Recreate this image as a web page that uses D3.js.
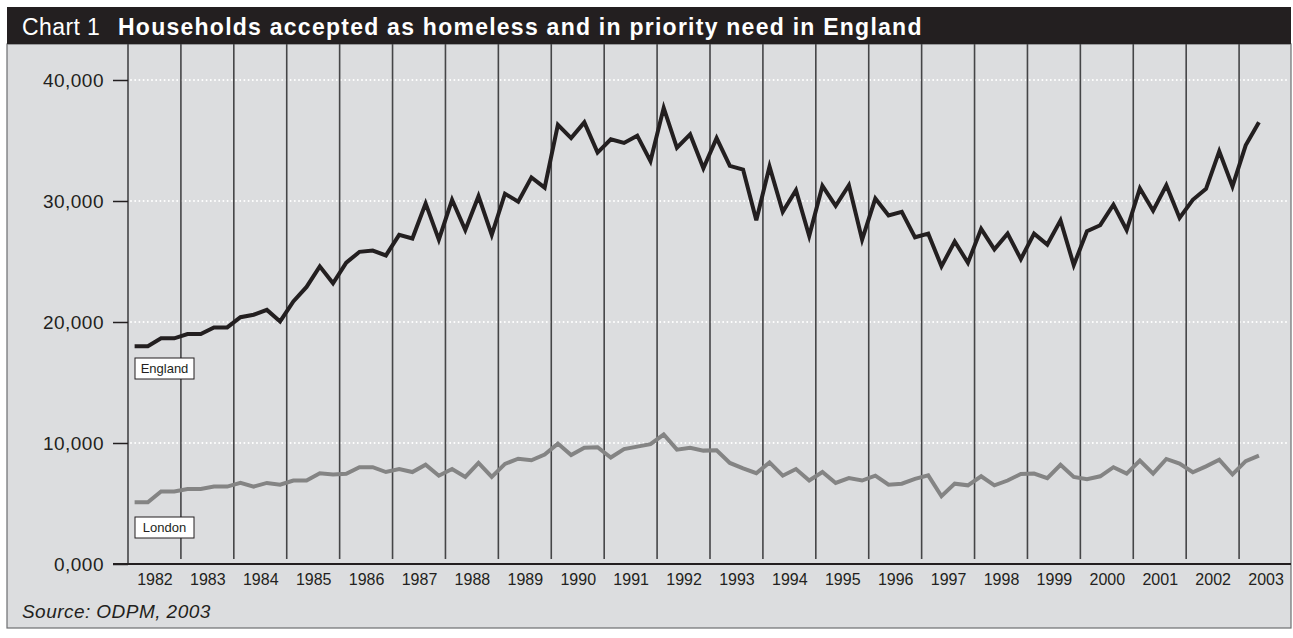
<!DOCTYPE html>
<html>
<head>
<meta charset="utf-8">
<script src="https://cdn.jsdelivr.net/npm/d3@7"></script>
<style>
  html, body { margin: 0; padding: 0; background: #ffffff; }
  svg { display: block; }
  text { font-family: "Liberation Sans", Arial, Helvetica, sans-serif; }
</style>
</head>
<body>
<svg id="chart" width="1293" height="638"></svg>
<script>
// ---------- DATA ----------
const yearLabels = ["1982","1983","1984","1985","1986","1987","1988","1989","1990","1991","1992",
                    "1993","1994","1995","1996","1997","1998","1999","2000","2001","2002","2003"];
const firstYear = 1982;
const seriesNames = ["England", "London"];

// Quarterly values, 1982 Q1 .. 2003 Q2
const englandValues = [
  18000, 18000, 18650, 18650,
  19000, 19000, 19550, 19550,
  20400, 20600, 21000, 20050,
  21700, 22900, 24600, 23200,
  24900, 25800, 25900, 25500,
  27200, 26900, 29800, 26800,
  30100, 27600, 30400, 27200,
  30600, 29950, 31950, 31100,
  36300, 35200, 36500, 34000,
  35100, 34800, 35400, 33300,
  37700, 34400, 35500, 32700,
  35200, 32900, 32600, 28400,
  32850, 29100, 30900, 27100,
  31250, 29600, 31300, 26800,
  30200, 28800, 29100, 27000,
  27300, 24600, 26650, 24900,
  27700, 26000, 27300, 25200,
  27300, 26400, 28400, 24700,
  27500, 28000, 29700, 27600,
  31050, 29200, 31300, 28600,
  30100, 31000, 34100, 31200,
  34600, 36500
];
const londonValues = [
  5100, 5100, 6000, 6000,
  6200, 6200, 6400, 6400,
  6700, 6400, 6700, 6550,
  6900, 6900, 7500, 7400,
  7450, 8000, 8000, 7600,
  7850, 7600, 8200, 7300,
  7850, 7200, 8350, 7200,
  8270, 8700, 8570, 9040,
  9950, 9000, 9600, 9650,
  8800, 9500, 9700, 9900,
  10700, 9450, 9600, 9370,
  9400, 8350, 7900, 7500,
  8400, 7300, 7850, 6900,
  7600, 6700, 7100, 6900,
  7300, 6560, 6640, 7030,
  7330, 5600, 6640, 6500,
  7250, 6500, 6900, 7440,
  7470, 7100, 8200, 7200,
  7000, 7250, 8000, 7470,
  8540, 7470, 8680, 8300,
  7580, 8070, 8620, 7400,
  8500, 8950
];
const yTickValues = [0, 10000, 20000, 30000, 40000];
const yTickLabels = ["0,000", "10,000", "20,000", "30,000", "40,000"];

const titlePrefix = "Chart 1";
const titleMain = "Households accepted as homeless and in priority need in England";
const sourceText = "Source: ODPM, 2003";

// ---------- LAYOUT ----------
const svg = d3.select("#chart");
const frame = { left: 7, top: 7, right: 1291, bottom: 628, titleH: 37 };
const plot = { left: 128, right: 1292, top: 44, axisY: 564, topVal: 80 };

const x = d3.scaleLinear().domain([firstYear, firstYear + yearLabels.length]).range([plot.left, plot.right]);
const y = d3.scaleLinear().domain([0, 40000]).range([plot.axisY, plot.topVal]);
const tOf = i => firstYear + (i + 0.5) / 4;

// Background panel
svg.append("rect")
  .attr("x", frame.left).attr("y", frame.top + frame.titleH)
  .attr("width", frame.right - frame.left).attr("height", frame.bottom - frame.top - frame.titleH)
  .attr("fill", "#dcdddf").attr("stroke", "#6d6e71").attr("stroke-width", 1.2);

// Title bar
svg.append("rect")
  .attr("x", frame.left).attr("y", frame.top)
  .attr("width", frame.right - frame.left).attr("height", frame.titleH)
  .attr("fill", "#231f20");
const title = svg.append("text").attr("x", 22).attr("y", 35)
  .attr("fill", "#ffffff").attr("font-size", 23);
title.append("tspan").attr("letter-spacing", 0.4).text(titlePrefix);
title.append("tspan").attr("x", 118).attr("font-weight", "bold")
  .attr("letter-spacing", 1.25).text(titleMain);

// Dotted white gridlines
svg.append("g").selectAll("line").data(yTickValues.filter(v => v > 0)).join("line")
  .attr("x1", plot.left + 3).attr("x2", frame.right - 2)
  .attr("y1", d => y(d)).attr("y2", d => y(d))
  .attr("stroke", "#ffffff").attr("stroke-width", 2)
  .attr("stroke-linecap", "round").attr("stroke-dasharray", "0,4.2");

// Vertical year separators
const sepYears = d3.range(firstYear + 1, firstYear + yearLabels.length);
svg.append("g").selectAll("line").data(sepYears).join("line")
  .attr("x1", d => x(d)).attr("x2", d => x(d))
  .attr("y1", plot.top).attr("y2", plot.axisY - 5)
  .attr("stroke", "#454547").attr("stroke-width", 1.6);

// Left axis line
svg.append("line")
  .attr("x1", plot.left).attr("x2", plot.left)
  .attr("y1", plot.top).attr("y2", plot.axisY)
  .attr("stroke", "#454547").attr("stroke-width", 1.6);

// Y axis
const yAxis = d3.axisLeft(y)
  .tickValues(yTickValues)
  .tickFormat((d, i) => yTickLabels[i])
  .tickSize(15).tickPadding(9);
const gy = svg.append("g").attr("transform", `translate(${plot.left},0)`).call(yAxis);
gy.select(".domain").remove();
gy.selectAll(".tick line").attr("stroke", "#231f20").attr("stroke-width", 1.5);
gy.selectAll(".tick text").attr("font-size", 19).attr("fill", "#231f20")
  .attr("letter-spacing", 0.5)
  .attr("font-family", "Liberation Sans, Arial, sans-serif");

// X axis line
svg.append("line")
  .attr("x1", plot.left - 15).attr("x2", frame.right)
  .attr("y1", plot.axisY).attr("y2", plot.axisY)
  .attr("stroke", "#231f20").attr("stroke-width", 1.8);

// X axis labels (centered in each year band)
const xAxis = d3.axisBottom(x)
  .tickValues(yearLabels.map((d, i) => firstYear + i + 0.5))
  .tickFormat((d, i) => yearLabels[i])
  .tickSize(0).tickPadding(10);
const gx = svg.append("g").attr("transform", `translate(0,${plot.axisY})`).call(xAxis);
gx.select(".domain").remove();
gx.selectAll(".tick text").attr("font-size", 16).attr("fill", "#231f20")
  .attr("font-family", "Liberation Sans, Arial, sans-serif");

// Lines
const lineGen = d3.line().x((d, i) => x(tOf(i))).y(d => y(d)).curve(d3.curveLinear);
svg.append("path").datum(londonValues)
  .attr("d", lineGen).attr("fill", "none")
  .attr("stroke", "#848484").attr("stroke-width", 4).attr("stroke-linejoin", "miter");
svg.append("path").datum(englandValues)
  .attr("d", lineGen).attr("fill", "none")
  .attr("stroke", "#231f20").attr("stroke-width", 4).attr("stroke-linejoin", "miter");

// Series labels
const labelBoxes = [
  { name: seriesNames[0], y: 358 },
  { name: seriesNames[1], y: 517 }
];
const lg = svg.append("g").selectAll("g").data(labelBoxes).join("g");
lg.append("rect")
  .attr("x", 135).attr("y", d => d.y).attr("width", 59).attr("height", 21)
  .attr("fill", "#ffffff").attr("stroke", "#231f20").attr("stroke-width", 1);
lg.append("text")
  .attr("x", 164.5).attr("y", d => d.y + 15)
  .attr("text-anchor", "middle").attr("font-size", 13).attr("fill", "#231f20")
  .text(d => d.name);

// Source
svg.append("text").attr("x", 22).attr("y", 618)
  .attr("font-size", 19).attr("font-style", "italic").attr("fill", "#231f20")
  .attr("letter-spacing", 0.45)
  .text(sourceText);
</script>
</body>
</html>
